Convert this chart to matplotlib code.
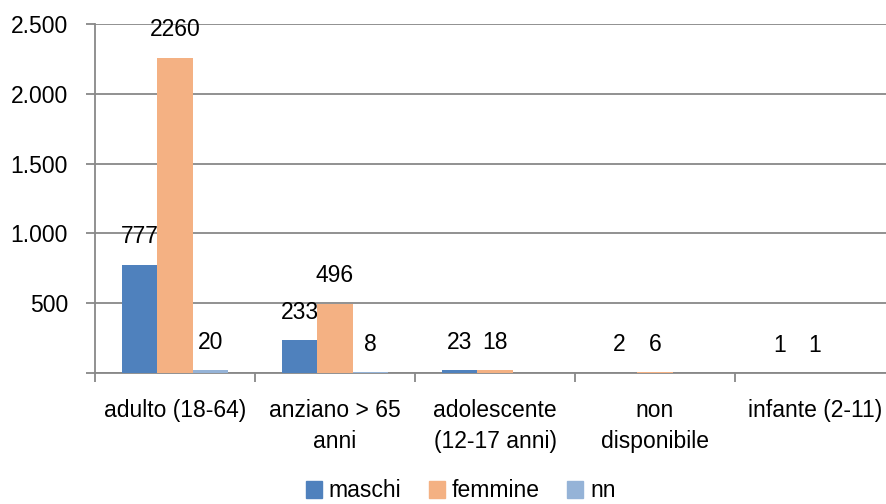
import matplotlib.pyplot as plt
import numpy as np
from matplotlib.ticker import FixedLocator, FuncFormatter
from matplotlib.patches import Patch

# data
categories = ['adulto (18-64)', 'anziano > 65\nanni', 'adolescente\n(12-17 anni)',
              'non\ndisponibile', 'infante (2-11)']
maschi = [777, 233, 23, 2, 1]
femmine = [2260, 496, 18, 6, 1]
nn = [20, 8, None, None, None]

series_names = ['maschi', 'femmine', 'nn']
colors = ['#4F81BD', '#F4B183', '#95B3D7']

plt.rcParams['font.family'] = ['Liberation Sans', 'DejaVu Sans']
FS = 16.5

fig = plt.figure(figsize=(8.86, 5.04), dpi=100)
ax = fig.add_axes([95 / 886, (504 - 373) / 504, 800 / 886, 349 / 504])

x = np.arange(len(categories))
w = 0.221
for i, (vals, col) in enumerate(zip([maschi, femmine, nn], colors)):
    pos = x + (i - 1) * w
    heights = [v if v is not None else 0 for v in vals]
    ax.bar(pos, heights, w, color=col, zorder=3)
    for p, v in zip(pos, vals):
        if v is None:
            continue
        ax.annotate(str(v), (p, v), xytext=(0, 20), textcoords='offset points',
                    ha='center', va='center', fontsize=FS)

ax.set_xlim(-0.5, len(categories) - 0.5)
ax.set_ylim(0, 2500)

# y axis with italian thousands separator, no label at 0
ax.yaxis.set_major_locator(FixedLocator([0, 500, 1000, 1500, 2000, 2500]))
ax.yaxis.set_major_formatter(FuncFormatter(
    lambda v, p: '' if v == 0 else f'{int(v):,}'.replace(',', '.')))
ax.yaxis.grid(True, color='#888888', lw=1.3, zorder=0)
ax.tick_params(axis='y', length=6.5, width=1.3, color='#888888', pad=13, labelsize=FS)

ax.set_xticks(x)
ax.set_xticklabels(categories, fontsize=FS, linespacing=1.45)
ax.set_xticks(np.arange(len(categories) + 1) - 0.5, minor=True)
ax.tick_params(axis='x', which='major', length=0, pad=19)
ax.tick_params(axis='x', which='minor', length=6.5, width=1.3, color='#888888')

for s in ['top', 'right']:
    ax.spines[s].set_visible(False)
for s in ['left', 'bottom']:
    ax.spines[s].set_color('#888888')
    ax.spines[s].set_linewidth(1.3)

handles = [Patch(color=c, label=n) for c, n in zip(colors, series_names)]
fig.legend(handles=handles, loc='center', bbox_to_anchor=(0.52, 0.026), ncol=3,
           frameon=False, fontsize=FS, handlelength=0.7, handleheight=0.8,
           handletextpad=0.3, columnspacing=1.2, borderpad=0.1)

fig.savefig('out.png', dpi=100)
